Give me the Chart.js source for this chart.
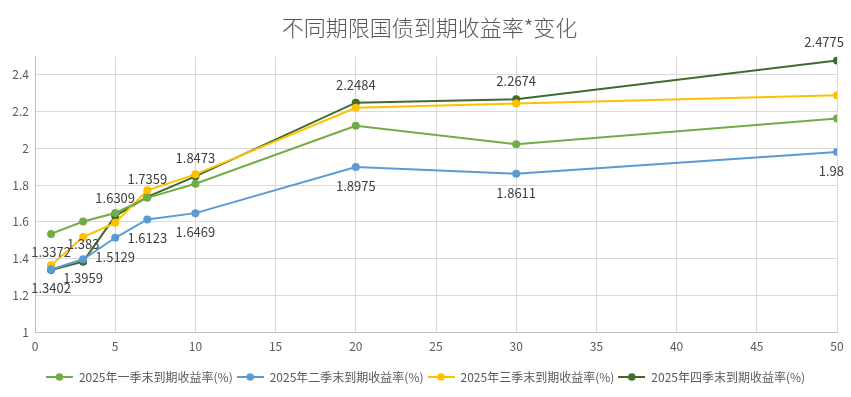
<!DOCTYPE html>
<html>
<head>
<meta charset="utf-8">
<script src="https://cdn.jsdelivr.net/npm/chart.js@4.4.1/dist/chart.umd.min.js"></script>
<style>
  html, body { margin: 0; padding: 0; background: #ffffff; }
  #wrap { width: 851px; height: 397px; }
</style>
</head>
<body>
<div id="wrap"><canvas id="c" width="851" height="397"></canvas></div>
<script>
const titleText = '不同期限国债到期收益率*变化';
const maturities = [1, 3, 5, 7, 10, 20, 30, 50];
const seriesNames = ['2025年一季末到期收益率(%)', '2025年二季末到期收益率(%)', '2025年三季末到期收益率(%)', '2025年四季末到期收益率(%)'];
const q1Yields = [1.534, 1.601, 1.648, 1.730, 1.807, 2.122, 2.022, 2.162];
const q2Yields = [1.3402, 1.3959, 1.5129, 1.6123, 1.6469, 1.8975, 1.8611, 1.98];
const q3Yields = [1.363, 1.517, 1.594, 1.771, 1.858, 2.220, 2.244, 2.288];
const q4Yields = [1.3372, 1.383, 1.6309, 1.7359, 1.8473, 2.2484, 2.2674, 2.4775];
const xTickRange = [0, 50, 5];
const yTickRange = [1, 2.5, 0.2];

const colors = ['#70AD47', '#5B9BD5', '#FFC000', '#416B2A'];
const labelSides = [null, 'below', null, 'above'];
const FONT = "'Noto Sans CJK SC', 'Noto Sans', sans-serif";

function pts(vals) { return maturities.map((m, i) => ({ x: m, y: vals[i] })); }

function legendMarker(color) {
  const cv = document.createElement('canvas');
  cv.width = 27; cv.height = 10;
  const g = cv.getContext('2d');
  g.strokeStyle = color; g.lineWidth = 2;
  g.beginPath(); g.moveTo(0, 5); g.lineTo(27, 5); g.stroke();
  g.fillStyle = color;
  g.beginPath(); g.arc(13.5, 5, 3.8, 0, Math.PI * 2); g.fill();
  return cv;
}
const markers = colors.map(legendMarker);

const allSeries = [q1Yields, q2Yields, q3Yields, q4Yields];
const datasets = allSeries.map((vals, i) => ({
  label: seriesNames[i],
  data: pts(vals),
  borderColor: colors[i],
  backgroundColor: colors[i],
  borderWidth: 2,
  pointRadius: 4,
  pointHoverRadius: 4,
  pointBorderWidth: 0,
  tension: 0,
  labelSide: labelSides[i]
}));

const dataLabels = {
  id: 'dataLabels',
  afterDatasetsDraw(chart) {
    const ctx = chart.ctx;
    ctx.save();
    ctx.font = '13px ' + FONT;
    ctx.fillStyle = '#404040';
    ctx.textAlign = 'center';
    ctx.textBaseline = 'middle';
    const maxRight = chart.width - 7;
    chart.data.datasets.forEach((ds, di) => {
      if (!ds.labelSide) return;
      const meta = chart.getDatasetMeta(di);
      meta.data.forEach((el, j) => {
        const txt = String(ds.data[j].y);
        const w = ctx.measureText(txt).width;
        let x = el.x;
        if (x + w / 2 > maxRight) x = maxRight - w / 2;
        const dy = ds.labelSide === 'above' ? -18 : 19;
        ctx.fillText(txt, x, el.y + dy);
      });
    });
    ctx.restore();
  }
};

const boxShift = {
  id: 'boxShift',
  afterLayout(chart) {
    if (chart.legend) { chart.legend.left += 7; chart.legend.right += 7; }
    if (chart.titleBlock) { chart.titleBlock.left += 11; chart.titleBlock.right += 11; }
  }
};

new Chart(document.getElementById('c'), {
  type: 'line',
  data: { datasets },
  plugins: [dataLabels, boxShift],
  options: {
    responsive: false,
    animation: false,
    events: [],
    layout: { padding: { left: 0, right: 14, top: 0, bottom: 4 } },
    plugins: {
      title: {
        display: true,
        text: titleText,
        color: '#595959',
        font: { family: FONT, size: 22, weight: '300', lineHeight: 1.2 },
        padding: { top: 14, bottom: 16 }
      },
      legend: {
        position: 'bottom',
        labels: {
          usePointStyle: true,
          pointStyleWidth: 27,
          color: '#595959',
          font: { family: FONT, size: 12 },
          padding: 4,
          generateLabels(chart) {
            const items = Chart.defaults.plugins.legend.labels.generateLabels(chart);
            items.forEach((it) => { it.pointStyle = markers[it.datasetIndex]; });
            return items;
          }
        }
      },
      tooltip: { enabled: false }
    },
    scales: {
      x: {
        type: 'linear',
        min: xTickRange[0], max: xTickRange[1],
        ticks: { stepSize: xTickRange[2], color: '#595959', font: { family: FONT, size: 12 }, padding: 7 },
        grid: { color: '#d9d9d9', drawTicks: false },
        border: { color: '#bfbfbf' },
        afterFit(s) { s.height = 35; }
      },
      y: {
        type: 'linear',
        min: yTickRange[0], max: yTickRange[1],
        ticks: {
          stepSize: yTickRange[2], color: '#595959', font: { family: FONT, size: 12 }, padding: 6,
          callback: (v) => String(Number(v.toFixed(2)))
        },
        grid: { color: '#d9d9d9', drawTicks: false },
        border: { color: '#bfbfbf' },
        afterBuildTicks(s) { s.ticks = s.ticks.filter(t => t.value < yTickRange[1] - 1e-9); },
        afterFit(s) { s.width = 35; }
      }
    }
  }
});
</script>
</body>
</html>
